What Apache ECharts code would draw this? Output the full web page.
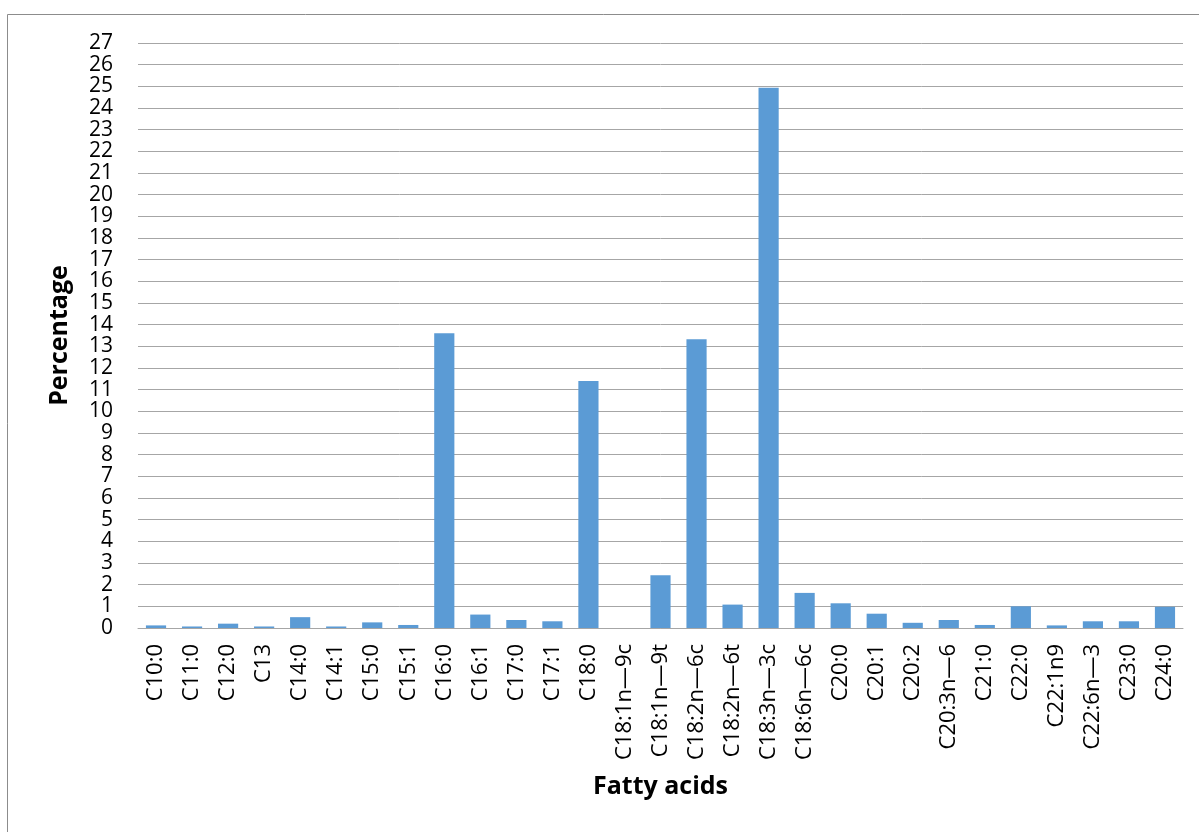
<!DOCTYPE html>
<html>
<head>
<meta charset="utf-8">
<title>Fatty acids</title>
<script src="https://cdn.jsdelivr.net/npm/echarts@6/dist/echarts.min.js"></script>
<style>
  html, body { margin: 0; padding: 0; background: #fff; }
  #chart { width: 1199px; height: 832px; }
</style>
</head>
<body>
<div id="chart"></div>
<script>
// Fatty acid composition (percent of total)
const categories = [
  'C10:0', 'C11:0', 'C12:0', 'C13', 'C14:0', 'C14:1', 'C15:0', 'C15:1',
  'C16:0', 'C16:1', 'C17:0', 'C17:1', 'C18:0', 'C18:1n\u20149c', 'C18:1n\u20149t',
  'C18:2n\u20146c', 'C18:2n\u20146t', 'C18:3n\u20143c', 'C18:6n\u20146c', 'C20:0',
  'C20:1', 'C20:2', 'C20:3n\u20146', 'C21:0', 'C22:0', 'C22:1n9', 'C22:6n\u20143',
  'C23:0', 'C24:0'
];
const percentages = [
  0.12, 0.07, 0.2, 0.07, 0.5, 0.07, 0.26, 0.14,
  13.6, 0.62, 0.37, 0.31, 11.4, 0, 2.43,
  13.33, 1.08, 24.93, 1.62, 1.14,
  0.66, 0.24, 0.37, 0.14, 1.0, 0.12, 0.31,
  0.31, 0.98
];
const yMin = 0, yMax = 27, yStep = 1;
const xTitle = 'Fatty acids';
const yTitle = 'Percentage';

const font = "'Open Sans', 'Liberation Sans', sans-serif";
const chart = echarts.init(document.getElementById('chart'), null, { renderer: 'canvas' });
chart.setOption({
  backgroundColor: '#ffffff',
  animation: false,
  graphic: [{
    type: 'rect',
    shape: { x: 7.5, y: 14.5, width: 1300, height: 900 },
    style: { fill: 'none', stroke: '#8c8c8c', lineWidth: 1 },
    silent: true
  }],
  grid: { left: 138, right: 16, top: 43, bottom: 204, containLabel: false },
  xAxis: {
    type: 'category',
    data: categories,
    name: xTitle,
    nameLocation: 'middle',
    nameGap: 146,
    nameTextStyle: { fontFamily: font, fontSize: 25, fontWeight: 'bold', color: '#000' },
    axisLine: { lineStyle: { color: '#a6a6a6', width: 1 } },
    axisTick: { show: false },
    axisLabel: {
      rotate: 90, interval: 0, margin: 16,
      fontFamily: font, fontSize: 22, color: '#000'
    }
  },
  yAxis: {
    type: 'value',
    min: yMin, max: yMax, interval: yStep,
    name: yTitle,
    nameLocation: 'middle',
    nameGap: 66,
    nameRotate: 90,
    nameTextStyle: { fontFamily: font, fontSize: 25, fontWeight: 'bold', color: '#000' },
    axisLine: { show: false },
    axisTick: { show: false },
    splitLine: { lineStyle: { color: '#a6a6a6', width: 1 } },
    axisLabel: {
      margin: 25, fontFamily: font, fontSize: 21, color: '#000',
      showMinLabel: true, showMaxLabel: true
    }
  },
  series: [{
    type: 'bar',
    data: percentages,
    barWidth: '56%',
    itemStyle: { color: '#5b9bd5' }
  }]
});
</script>
</body>
</html>
